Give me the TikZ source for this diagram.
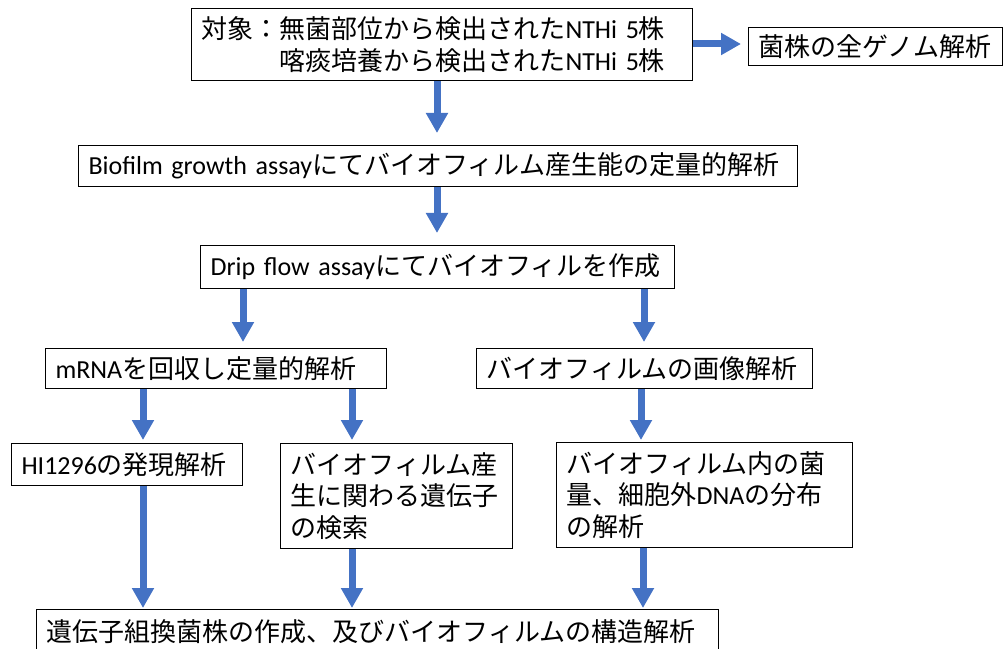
\documentclass[tikz,border=0pt]{standalone}
\usepackage{fontspec}
\usetikzlibrary{arrows.meta}
\newfontfamily\jp{Noto Sans CJK JP}
\newfontfamily\lat{Carlito}
\newcommand\la[1]{{\lat #1}}
\definecolor{arrblue}{HTML}{4472C4}
\begin{document}
\begin{tikzpicture}[x=0.75pt,y=-0.75pt,
  box/.style={draw=black,line width=0.8pt,anchor=north west,inner xsep=7.5pt,inner ysep=0pt,
    align=left,font=\jp\fontsize{19.5pt}{23.75pt}\selectfont},
  arr/.style={draw=arrblue,line width=5.25pt,-{Triangle[length=15pt,width=15.75pt]}}]
\useasboundingbox (0,0) rectangle (1003,649);
% boxes
\node[box,minimum width=496*0.75pt,minimum height=72*0.75pt,text width=481*0.75pt] (b1) at (191,8)
  {対象：無菌部位から検出された\la{NTHi 5}株\\\hspace*{3em}喀痰培養から検出された\la{NTHi 5}株};
\node[box,minimum width=254*0.75pt,minimum height=38*0.75pt,text width=234*0.75pt] (bg) at (748,27)
  {菌株の全ゲノム解析};
\node[box,minimum width=719*0.75pt,minimum height=41*0.75pt,text width=699*0.75pt] (b2) at (78,145)
  {\la{Biofilm growth assay}にてバイオフィルム産生能の定量的解析};
\node[box,minimum width=474*0.75pt,minimum height=43*0.75pt,text width=454*0.75pt] (b3) at (200,245)
  {\la{Drip flow assay}にてバイオフィルを作成};
\node[box,minimum width=341*0.75pt,minimum height=40*0.75pt,text width=321*0.75pt] (b4) at (45,348)
  {\la{mRNA}を回収し定量的解析};
\node[box,minimum width=336*0.75pt,minimum height=40*0.75pt,text width=316*0.75pt] (b5) at (476,348)
  {バイオフィルムの画像解析};
\node[box,minimum width=231*0.75pt,minimum height=42*0.75pt,text width=211*0.75pt] (b6) at (11,443)
  {\la{HI1296}の発現解析};
\node[box,minimum width=232*0.75pt,minimum height=105*0.75pt,text width=212*0.75pt] (b7) at (280,443)
  {バイオフィルム産\\生に関わる遺伝子\\の検索};
\node[box,minimum width=296*0.75pt,minimum height=105*0.75pt,text width=276*0.75pt] (b8) at (556,442)
  {バイオフィルム内の菌\\量、細胞外\la{DNA}の分布\\の解析};
\node[box,minimum width=682*0.75pt,minimum height=44*0.75pt,text width=662*0.75pt] (b9) at (36,609)
  {遺伝子組換菌株の作成、及びバイオフィルムの構造解析};
% arrows
\draw[arr,shorten >=7*0.75pt] (b1.east |- 0,44) -- (bg.west |- 0,44);
\draw[arr,shorten >=12*0.75pt] (b1.south -| 437,0) -- (b2.north -| 437,0);
\draw[arr,shorten >=12*0.75pt] (b2.south -| 437,0) -- (b3.north -| 437,0);
\draw[arr,shorten >=6*0.75pt] (b3.south -| 243,0) -- (b4.north -| 243,0);
\draw[arr,shorten >=6*0.75pt] (b3.south -| 644,0) -- (b5.north -| 644,0);
\draw[arr,shorten >=3*0.75pt] (b4.south -| 143,0) -- (b6.north -| 143,0);
\draw[arr,shorten >=3*0.75pt] (b4.south -| 352,0) -- (b7.north -| 352,0);
\draw[arr,shorten >=2*0.75pt] (b5.south -| 641,0) -- (b8.north -| 641,0);
\draw[arr,shorten >=1*0.75pt] (b6.south -| 143,0) -- (b9.north -| 143,0);
\draw[arr,shorten >=1*0.75pt] (b7.south -| 352,0) -- (b9.north -| 352,0);
\draw[arr,shorten >=1*0.75pt] (b8.south -| 643,0) -- (b9.north -| 643,0);
\end{tikzpicture}
\end{document}
